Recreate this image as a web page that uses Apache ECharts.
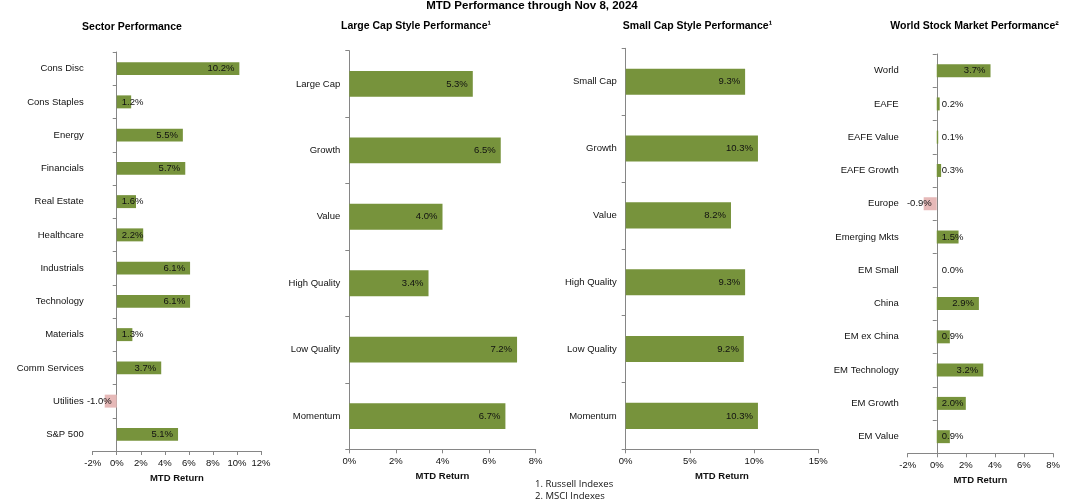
<!DOCTYPE html>
<html><head><meta charset="utf-8">
<script src="https://cdn.jsdelivr.net/npm/echarts@6/dist/echarts.min.js"></script>
<style>html,body{margin:0;padding:0;background:#fff}#c{width:1077px;height:503px}</style>
</head><body><div id="c"></div>
<script>
// ---------- DATA ----------
const mainTitle = 'MTD Performance through Nov 8, 2024';
const panelTitles = ['Sector Performance', 'Large Cap Style Performance\u00B9', 'Small Cap Style Performance\u00B9', 'World Stock Market Performance\u00B2'];
const axisTitle = 'MTD Return';
const footnotes = ['1. Russell Indexes', '2. MSCI Indexes'];

const sectorCategories = ['Cons Disc', 'Cons Staples', 'Energy', 'Financials', 'Real Estate', 'Healthcare', 'Industrials', 'Technology', 'Materials', 'Comm Services', 'Utilities', 'S&P 500'];
const sectorValues = [10.2, 1.2, 5.5, 5.7, 1.6, 2.2, 6.1, 6.1, 1.3, 3.7, -1.0, 5.1];
const sectorTicks = [-2, 0, 2, 4, 6, 8, 10, 12];

const largeCapCategories = ['Large Cap', 'Growth', 'Value', 'High Quality', 'Low Quality', 'Momentum'];
const largeCapValues = [5.3, 6.5, 4.0, 3.4, 7.2, 6.7];
const largeCapTicks = [0, 2, 4, 6, 8];

const smallCapCategories = ['Small Cap', 'Growth', 'Value', 'High Quality', 'Low Quality', 'Momentum'];
const smallCapValues = [9.3, 10.3, 8.2, 9.3, 9.2, 10.3];
const smallCapTicks = [0, 5, 10, 15];

const worldCategories = ['World', 'EAFE', 'EAFE Value', 'EAFE Growth', 'Europe', 'Emerging Mkts', 'EM Small', 'China', 'EM ex China', 'EM Technology', 'EM Growth', 'EM Value'];
const worldValues = [3.7, 0.2, 0.1, 0.3, -0.9, 1.5, 0.0, 2.9, 0.9, 3.2, 2.0, 0.9];
const worldTicks = [-2, 0, 2, 4, 6, 8];

// ---------- STYLE / LAYOUT ----------
const POS = '#77933C', NEG = '#E6B9B8', AXIS = '#868686', TXT = '#111';
const FONT = '"Liberation Sans", Arial, sans-serif';
const FS = 9.5;
const LABEL_DIST = 5;

const panels = [
  { cats: sectorCategories, vals: sectorValues, ticks: sectorTicks, grid: { left: 92.7, top: 52, width: 168.3, height: 399 }, titleX: 132, titleY: 27.5, nameGap: 21 },
  { cats: largeCapCategories, vals: largeCapValues, ticks: largeCapTicks, grid: { left: 349.3, top: 50.7, width: 186.4, height: 398.6 }, titleX: 416, titleY: 26, nameGap: 21 },
  { cats: smallCapCategories, vals: smallCapValues, ticks: smallCapTicks, grid: { left: 625.7, top: 48.3, width: 192.6, height: 401 }, titleX: 697.5, titleY: 26.5, nameGap: 19.5 },
  { cats: worldCategories, vals: worldValues, ticks: worldTicks, grid: { left: 907.7, top: 54, width: 145.3, height: 399.3 }, titleX: 974.5, titleY: 25.7, nameGap: 20.5 }
];

const mctx = document.createElement('canvas').getContext('2d');
mctx.font = FS + 'px ' + FONT;
function fmt(v) { return v.toFixed(1) + '%'; }

function buildData(p) {
  const min = p.ticks[0], max = p.ticks[p.ticks.length - 1];
  const ppu = p.grid.width / (max - min);
  return p.vals.map(v => {
    const tw = mctx.measureText(fmt(v)).width;
    const fits = Math.abs(v) * ppu >= tw + 2 * LABEL_DIST + 2;
    let pos;
    if (v >= 0) pos = fits ? 'insideRight' : 'insideLeft';
    else pos = fits ? 'insideLeft' : 'insideRight';
    return { value: v, label: { position: pos }, itemStyle: { color: v < 0 ? NEG : POS } };
  });
}

const grids = [], xAxes = [], yAxes = [], series = [];
panels.forEach((p, i) => {
  grids.push(Object.assign({ containLabel: false }, p.grid));
  const min = p.ticks[0], max = p.ticks[p.ticks.length - 1];
  xAxes.push({
    gridIndex: i, type: 'value', min: min, max: max, interval: p.ticks[1] - p.ticks[0],
    splitLine: { show: false },
    axisLine: { show: true, lineStyle: { color: AXIS, width: 1 } },
    axisTick: { show: true, length: 4, lineStyle: { color: AXIS } },
    axisLabel: { fontSize: FS, fontFamily: FONT, color: TXT, margin: 7, formatter: '{value}%', showMinLabel: true, showMaxLabel: true },
    name: axisTitle, nameLocation: 'middle', nameGap: p.nameGap,
    nameTextStyle: { fontSize: FS, fontWeight: 'bold', fontFamily: FONT, color: TXT }
  });
  // category label axis at grid left
  yAxes.push({
    gridIndex: i, type: 'category', data: p.cats, inverse: true, position: 'left',
    axisLine: { show: false, onZero: false }, axisTick: { show: false },
    axisLabel: { fontSize: FS, fontFamily: FONT, color: TXT, margin: 9, interval: 0 }
  });
  // zero line axis with boundary ticks
  yAxes.push({
    gridIndex: i, type: 'category', data: p.cats, inverse: true, position: 'left',
    axisLine: { show: true, onZero: true, lineStyle: { color: AXIS, width: 1 } },
    axisTick: { show: true, length: 4, lineStyle: { color: AXIS } },
    axisLabel: { show: false }
  });
  series.push({
    type: 'bar', xAxisIndex: i, yAxisIndex: 2 * i, data: buildData(p),
    barCategoryGap: '61%',
    label: { show: true, distance: LABEL_DIST, fontSize: FS, fontFamily: FONT, color: TXT, formatter: prm => fmt(prm.value) }
  });
});

const graphics = [
  { type: 'text', x: 532, y: 6, style: { text: mainTitle, font: 'bold 11.5px ' + FONT, fill: '#000', textAlign: 'center', textVerticalAlign: 'middle' } }
];
panels.forEach((p, i) => {
  graphics.push({ type: 'text', x: p.titleX, y: p.titleY, style: { text: panelTitles[i], font: 'bold 10.5px ' + FONT, fill: '#000', textAlign: 'center', textVerticalAlign: 'middle' } });
});
footnotes.forEach((f, i) => {
  graphics.push({ type: 'text', x: 535, y: 484 + i * 12.7, style: { text: f, font: '9.5px "Open Sans", "Noto Sans", sans-serif', fill: '#111', textAlign: 'left', textVerticalAlign: 'middle' } });
});

const chart = echarts.init(document.getElementById('c'), null, { renderer: 'canvas' });
chart.setOption({
  animation: false,
  backgroundColor: '#fff',
  grid: grids, xAxis: xAxes, yAxis: yAxes, series: series,
  graphic: graphics
});
</script></body></html>
